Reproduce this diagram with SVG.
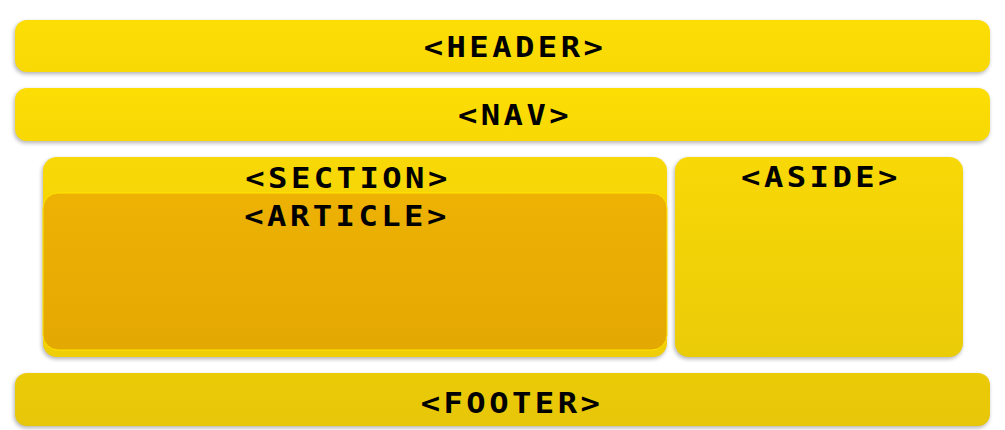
<svg xmlns="http://www.w3.org/2000/svg" width="1005" height="430" viewBox="0 0 1005 430">
<defs>
<linearGradient id="gTop" x1="0" y1="0" x2="0" y2="1"><stop offset="0" stop-color="#FCDD04"/><stop offset="1" stop-color="#F9D905"/></linearGradient>
<linearGradient id="gSec" x1="0" y1="0" x2="0" y2="1"><stop offset="0" stop-color="#F8D806"/><stop offset="1" stop-color="#EFCE07"/></linearGradient>
<linearGradient id="gArt" x1="0" y1="0" x2="0" y2="1"><stop offset="0" stop-color="#EDB204"/><stop offset="1" stop-color="#E4A803"/></linearGradient>
<linearGradient id="gAside" x1="0" y1="0" x2="0" y2="1"><stop offset="0" stop-color="#F8D806"/><stop offset="1" stop-color="#EACB08"/></linearGradient>
<linearGradient id="gFoot" x1="0" y1="0" x2="0" y2="1"><stop offset="0" stop-color="#EBCB07"/><stop offset="1" stop-color="#E6C608"/></linearGradient>
<filter id="blur" x="-10%" y="-30%" width="120%" height="160%"><feGaussianBlur stdDeviation="2"/></filter>
</defs>
<style>
.lbl{font-family:"DejaVu Sans Mono","Liberation Mono",monospace;font-weight:bold;font-size:28px;letter-spacing:3px;fill:#000;text-anchor:middle}
.sh{fill:#000;opacity:0.3;filter:url(#blur)}
</style>
<rect width="1005" height="430" fill="#fff"/>
<g id="header">
<rect class="sh" x="14" y="22" width="975" height="52" rx="12"/>
<rect x="15" y="20" width="975" height="52" rx="12" fill="url(#gTop)"/>
<text class="lbl" transform="translate(515 57) scale(1.15 1)">&lt;HEADER&gt;</text>
</g>
<g id="nav">
<rect class="sh" x="14" y="90" width="975" height="53" rx="12"/>
<rect x="15" y="88" width="975" height="53" rx="12" fill="url(#gTop)"/>
<text class="lbl" transform="translate(515 125) scale(1.15 1)">&lt;NAV&gt;</text>
</g>
<g id="section">
<rect class="sh" x="42" y="159" width="624" height="200" rx="14"/>
<rect x="43" y="157" width="624" height="200" rx="14" fill="url(#gSec)"/>
<text class="lbl" transform="translate(348 188) scale(1.15 1)">&lt;SECTION&gt;</text>
</g>
<g id="article">
<rect x="43" y="193" width="624" height="157" rx="15" fill="url(#gArt)" stroke="#FFE500" stroke-width="1"/>
<text class="lbl" transform="translate(347 226) scale(1.15 1)">&lt;ARTICLE&gt;</text>
</g>
<g id="aside">
<rect class="sh" x="674" y="159" width="288" height="200" rx="14"/>
<rect x="675" y="157" width="288" height="200" rx="14" fill="url(#gAside)"/>
<text class="lbl" transform="translate(821 187) scale(1.15 1)">&lt;ASIDE&gt;</text>
</g>
<g id="footer">
<rect class="sh" x="14" y="375" width="975" height="53" rx="12"/>
<rect x="15" y="373" width="975" height="53" rx="12" fill="url(#gFoot)"/>
<text class="lbl" transform="translate(512 413) scale(1.15 1)">&lt;FOOTER&gt;</text>
</g>
<g id="connectors"/>
</svg>
